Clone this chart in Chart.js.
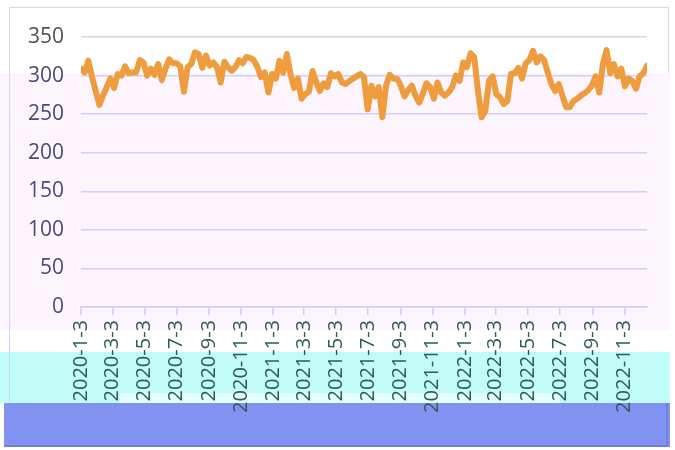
<!DOCTYPE html>
<html>
<head>
<meta charset="utf-8">
<script src="https://cdn.jsdelivr.net/npm/chart.js@4.4.1/dist/chart.umd.min.js"></script>
<style>
  html, body { margin: 0; padding: 0; background: #fff; }
  #wrap { width: 675px; height: 450px; }
</style>
</head>
<body>
<div id="wrap"><canvas id="chart" width="675" height="450"></canvas></div>
<script>
// weekly series, starting Friday 2020-01-03
const startDate = '2020-1-3';
const weekValues = [
  309, 304, 319, 298, 280, 262, 274, 285, 296, 284,
  302, 300, 312, 303, 304, 304, 320, 317, 300, 309,
  301, 315, 294, 309, 321, 316, 316, 312, 279, 311,
  315, 330, 328, 310, 326, 313, 317, 311, 291, 318,
  311, 306, 311, 320, 316, 324, 323, 320, 311, 298,
  304, 278, 302, 296, 319, 304, 328, 302, 284, 296,
  270, 276, 279, 306, 291, 280, 290, 285, 303, 299,
  302, 291, 289, 293, 296, 299, 302, 298, 256, 287,
  273, 285, 246, 287, 301, 296, 296, 287, 273, 281,
  287, 274, 265, 276, 290, 285, 270, 291, 278, 274,
  278, 285, 300, 293, 317, 311, 329, 324, 280, 246,
  254, 293, 299, 276, 272, 263, 267, 302, 303, 310,
  296, 316, 320, 332, 317, 325, 320, 304, 289, 280,
  289, 274, 259, 259, 267, 270, 274, 277, 281, 287,
  299, 278, 315, 333, 303, 315, 299, 309, 286, 296,
  293, 283, 299, 303, 313
];
const xTickLabels = [
  '2020-1-3', '2020-3-3', '2020-5-3', '2020-7-3', '2020-9-3', '2020-11-3',
  '2021-1-3', '2021-3-3', '2021-5-3', '2021-7-3', '2021-9-3', '2021-11-3',
  '2022-1-3', '2022-3-3', '2022-5-3', '2022-7-3', '2022-9-3', '2022-11-3'
];
const yTicks = [0, 50, 100, 150, 200, 250, 300, 350];

function dayNumber(s) {
  const [y, m, d] = s.split('-').map(Number);
  return Date.UTC(y, m - 1, d) / 86400000;
}
const day0 = dayNumber(startDate);
const tickDays = xTickLabels.map(s => dayNumber(s) - day0);
const points = weekValues.map((v, i) => ({ x: i * 7, y: v }));

// background blocks seen in the reference picture
const backdrop = {
  id: 'backdrop',
  beforeDraw(chart) {
    const c = chart.ctx;
    c.save();
    c.fillStyle = '#ffffff';
    c.fillRect(0, 0, 675, 450);
    c.fillStyle = '#fcf5fe';
    c.fillRect(0, 73, 670, 257);
    c.fillStyle = '#c2fcf8';
    c.fillRect(0, 352, 670, 51);
    c.fillStyle = '#e6fefd';
    c.fillRect(120, 393, 440, 10);
    c.fillStyle = '#8292f0';
    c.fillRect(4, 403, 666, 44);
    c.strokeStyle = '#6f7fdc';
    c.lineWidth = 2;
    c.beginPath();
    c.moveTo(4, 446); c.lineTo(667, 446); c.lineTo(667, 403);
    c.stroke();
    c.lineWidth = 1;
    c.strokeStyle = '#d9d9d9';
    c.beginPath();
    c.moveTo(9.5, 73); c.lineTo(9.5, 7.5); c.lineTo(668.5, 7.5); c.lineTo(668.5, 73);
    c.stroke();
    c.strokeStyle = '#d2d2fa';
    c.beginPath();
    c.moveTo(9.5, 73); c.lineTo(9.5, 403);
    c.stroke();
    c.restore();
  }
};

new Chart(document.getElementById('chart'), {
  type: 'line',
  data: {
    datasets: [{
      data: points,
      borderColor: '#ef9c3e',
      borderWidth: 6,
      borderJoinStyle: 'round',
      borderCapStyle: 'round',
      pointRadius: 0,
      tension: 0,
      fill: false
    }]
  },
  options: {
    responsive: false,
    animation: false,
    layout: { padding: { top: 37, right: 28, left: 0, bottom: 0 } },
    plugins: { legend: { display: false }, tooltip: { enabled: false } },
    scales: {
      x: {
        type: 'linear',
        min: 0,
        max: (weekValues.length - 1) * 7,
        afterFit(scale) { scale.height = 143; },
        afterBuildTicks(scale) { scale.ticks = tickDays.map(v => ({ value: v })); },
        border: { display: true, color: '#cdcdfa', width: 1.5 },
        grid: { drawOnChartArea: false, drawTicks: true, tickLength: 8, color: '#cdcdfa', lineWidth: 1.5 },
        ticks: {
          autoSkip: false,
          minRotation: 90,
          maxRotation: 90,
          padding: 5,
          color: '#2f5a5a',
          font: { family: 'Open Sans', size: 20 },
          callback(value) {
            const i = tickDays.indexOf(value);
            return i >= 0 ? xTickLabels[i] : '';
          }
        }
      },
      y: {
        min: 0,
        max: 350,
        afterFit(scale) { scale.width = 81; },
        afterBuildTicks(scale) { scale.ticks = yTicks.map(v => ({ value: v })); },
        border: { display: false },
        grid: {
          drawTicks: false,
          lineWidth: 1.5,
          color: ctx => (ctx.tick && ctx.tick.value === 350 ? '#d6d6d6' : '#d0d0fc')
        },
        ticks: {
          padding: 17,
          color: ctx => (ctx.tick && ctx.tick.value === 350 ? '#505050' : '#4a4a78'),
          font: { family: 'Open Sans', size: 21 }
        }
      }
    }
  },
  plugins: [backdrop]
});
</script>
</body>
</html>
